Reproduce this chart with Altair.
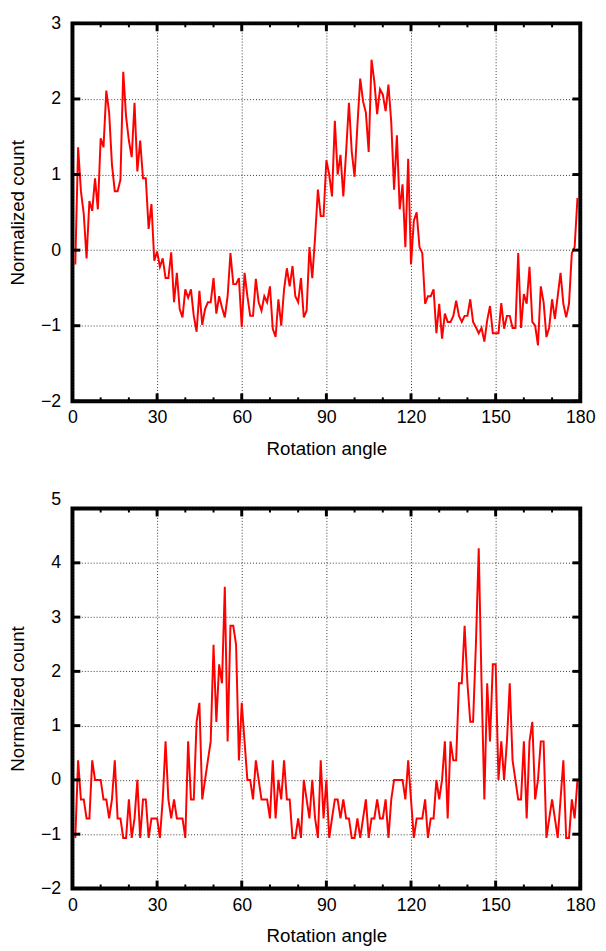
import altair as alt
import pandas as pd

angles = list(range(1, 180))

top_counts = [
    -0.19, 1.36, 0.78, 0.48, -0.11, 0.65, 0.52, 0.95, 0.54, 1.48,
    1.36, 2.11, 1.82, 1.13, 0.78, 0.78, 0.93, 2.36, 1.77, 1.45,
    1.23, 1.95, 1.04, 1.45, 0.95, 0.95, 0.28, 0.61, -0.14, -0.02,
    -0.22, -0.11, -0.37, -0.37, -0.03, -0.69, -0.30, -0.78, -0.89, -0.52,
    -0.63, -0.52, -0.87, -1.08, -0.54, -0.99, -0.78, -0.69, -0.69, -0.37,
    -0.84, -0.61, -0.76, -0.89, -0.61, -0.04, -0.45, -0.45, -0.37,
    -1.02, -0.30, -0.61, -0.87, -0.87, -0.38, -0.69, -0.80, -0.61, -0.69,
    -0.48, -1.04, -1.15, -0.65, -1.00, -0.52, -0.24, -0.48, -0.21, -0.61,
    -0.69, -0.37, -0.89, -0.80, 0.04, -0.37, 0.17, 0.80, 0.45, 0.45,
    1.19, 1.00, 0.71, 1.71, 1.00, 1.26, 0.71, 1.30, 1.95, 1.30,
    0.97, 1.65, 2.27, 1.97, 1.82, 1.30, 2.52, 2.23, 1.80, 2.13,
    2.06, 1.84, 2.19, 1.69, 0.80, 1.52, 0.54, 0.87, 0.04,
    1.21, -0.19, 0.39, 0.50, 0.04, -0.04, -0.71, -0.61, -0.61, -0.52,
    -1.10, -0.71, -1.17, -0.84, -0.95, -0.95, -0.87, -0.67, -0.87, -0.95,
    -0.87, -0.87, -0.65, -0.95, -1.02, -1.10, -1.03, -1.21, -0.93, -0.74,
    -1.10, -1.10, -1.10, -0.70, -1.04, -0.87, -0.87, -1.03, -1.03, -0.04,
    -1.03, -0.58, -0.71, -0.22, -0.95, -1.00, -1.26, -0.48, -0.69, -1.15,
    -1.02, -0.65, -0.91, -0.61, -0.30, -0.71, -0.89, -0.71, -0.04, 0.04,
    0.69,
]

bottom_counts = [
    -1.07, 0.36, -0.36, -0.36, -0.71, -0.71, 0.36, 0, 0, 0,
    -0.36, -0.36, -0.71, -0.36, 0.36, -0.71, -0.71, -1.07, -1.07, -0.36,
    -1.07, -0.71, 0, -1.07, -0.36, -0.36, -1.07, -0.71, -0.71, -0.71,
    -1.07, -0.36, 0.71, -0.36, -0.71, -0.36, -0.71, -0.71, -0.71, -1.07,
    0.71, -0.36, -0.36, 1.07, 1.42, -0.36, 0, 0.36, 0.71, 2.49,
    1.07, 2.13, 1.78, 3.56, 0.71, 2.84, 2.84, 2.49, 0.36,
    1.42, 0.71, 0, 0, -0.36, 0.36, 0, -0.36, -0.36, -0.36,
    -0.71, 0.36, -0.71, 0, -0.36, 0.36, -0.36, -0.36, -1.07, -1.07,
    -0.71, -1.07, 0, -0.36, -0.71, 0, -0.71, -1.07, 0.36, -0.71,
    0, -1.07, -0.71, -0.36, -0.36, -0.71, -0.36, -0.71, -0.71, -1.07,
    -1.07, -0.71, -1.07, -0.71, -0.36, -1.07, -0.71, -0.71, -0.36, -0.71,
    -0.71, -0.36, -1.07, -0.36, 0, 0, 0, 0, -0.36,
    0.36, -0.36, -1.07, -0.71, -0.71, -0.71, -0.36, -1.07, -0.71, -0.71,
    0, -0.36, 0, 0.71, -0.71, 0.71, 0.36, 0.36, 1.78, 1.78,
    2.84, 1.78, 1.07, 1.07, 2.49, 4.27, 1.78, -0.36, 1.78, 0.71,
    2.13, 2.13, 0, 0.71, 0, 0.71, 1.78, 0.36, 0, -0.36,
    -0.36, 0.71, -0.71, 0.71, 1.07, -0.36, 0, 0.71, 0.71, -1.07,
    -0.71, -0.36, -0.71, -1.07, -0.36, 0.36, -1.07, -1.07, -0.36, -0.71,
    0,
]

x_major = [0, 30, 60, 90, 120, 150, 180]
x_minor = [10, 20, 40, 50, 70, 80, 100, 110, 130, 140, 160, 170]
top_y_ticks = [-2, -1, 0, 1, 2, 3]
bottom_y_ticks = [-2, -1, 0, 1, 2, 3, 4, 5]

W = 516
FONT = "Liberation Sans"


def panel(counts, yticks, H, five_up=False):
    df = pd.DataFrame({"angle": angles, "count": counts})
    xs = alt.Scale(domain=[0, 180], nice=False, zero=False)
    ys = alt.Scale(domain=[yticks[0], yticks[-1]], nice=False, zero=False)
    xaxis = alt.Axis(values=x_major, title="Rotation angle", grid=True,
                     labelPadding=8, titlePadding=13, labelFlush=False)
    yaxis_kw = dict(
        values=yticks, title="Normalized count", grid=True,
        labelPadding=12, titlePadding=13, labelFlush=False,
    )
    if five_up:
        yaxis_kw["labelBaseline"] = {
            "condition": {"test": "datum.value == 5", "value": "bottom"},
            "value": "middle",
        }
    yaxis = alt.Axis(**yaxis_kw)
    X = alt.X("angle:Q", scale=xs, axis=xaxis)
    Y = alt.Y("count:Q", scale=ys, axis=yaxis)

    line = alt.Chart(df).mark_line(color="#ff0000", strokeWidth=2).encode(x=X, y=Y)
    dmaj = pd.DataFrame({"angle": x_major})
    dmin = pd.DataFrame({"angle": x_minor})
    dy = pd.DataFrame({"count": yticks})
    layers = [line]
    layers.append(alt.Chart(dmaj).mark_rule(color="black", strokeWidth=3).encode(
        x=X, y=alt.value(H), y2=alt.value(H - 8)))
    layers.append(alt.Chart(dmaj).mark_rule(color="black", strokeWidth=3).encode(
        x=X, y=alt.value(0), y2=alt.value(8)))
    layers.append(alt.Chart(dmin).mark_rule(color="black", strokeWidth=2).encode(
        x=X, y=alt.value(H), y2=alt.value(H - 4)))
    layers.append(alt.Chart(dmin).mark_rule(color="black", strokeWidth=2).encode(
        x=X, y=alt.value(0), y2=alt.value(4)))
    layers.append(alt.Chart(dy).mark_rule(color="black", strokeWidth=3).encode(
        y=Y, x=alt.value(0), x2=alt.value(8)))
    layers.append(alt.Chart(dy).mark_rule(color="black", strokeWidth=3).encode(
        y=Y, x=alt.value(W), x2=alt.value(W - 8)))
    return alt.layer(*layers).properties(width=W, height=H)


top = panel(top_counts, top_y_ticks, 384)
bottom = panel(bottom_counts, bottom_y_ticks, 386, five_up=True)

chart = alt.vconcat(top, bottom, spacing=29).properties(
    padding={"left": -1.5, "top": -3, "right": 0, "bottom": 0},
    background="white",
).configure_view(
    stroke="black", strokeWidth=4,
).configure_axis(
    labelFont=FONT, labelFontSize=18, labelColor="#000",
    titleFont=FONT, titleFontSize=19, titleFontWeight="normal", titleColor="#000",
    domain=False, ticks=False,
    gridColor="#222", gridWidth=1, gridDash=[1, 2], gridOpacity=0.9,
)

chart.save("out.html", embed_options={"renderer": "svg", "actions": False})
